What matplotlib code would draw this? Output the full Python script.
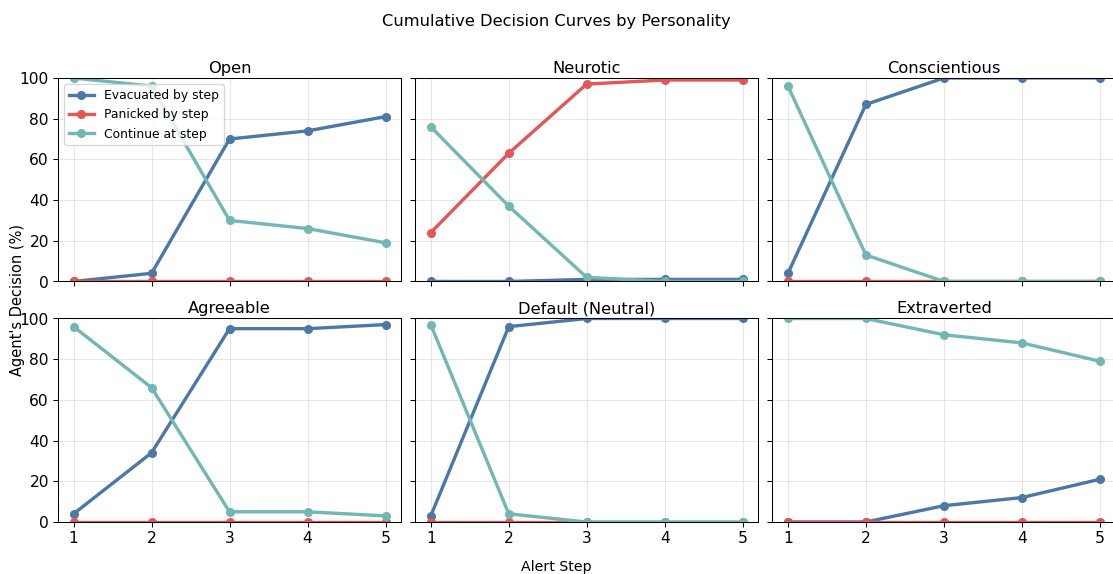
import numpy as np
import matplotlib.pyplot as plt

# Data
steps = [1, 2, 3, 4, 5]
personalities = ['Open', 'Neurotic', 'Conscientious', 'Agreeable', 'Default (Neutral)', 'Extraverted']

evacuated = {
    'Open': [0, 4, 70, 74, 81],
    'Neurotic': [0, 0, 1, 1, 1],
    'Conscientious': [4, 87, 100, 100, 100],
    'Agreeable': [4, 34, 95, 95, 97],
    'Default (Neutral)': [3, 96, 100, 100, 100],
    'Extraverted': [0, 0, 8, 12, 21],
}
panicked = {
    'Open': [0, 0, 0, 0, 0],
    'Neurotic': [24, 63, 97, 99, 99],
    'Conscientious': [0, 0, 0, 0, 0],
    'Agreeable': [0, 0, 0, 0, 0],
    'Default (Neutral)': [0, 0, 0, 0, 0],
    'Extraverted': [0, 0, 0, 0, 0],
}
continuing = {
    'Open': [100, 96, 30, 26, 19],
    'Neurotic': [76, 37, 2, 0, 0],
    'Conscientious': [96, 13, 0, 0, 0],
    'Agreeable': [96, 66, 5, 5, 3],
    'Default (Neutral)': [97, 4, 0, 0, 0],
    'Extraverted': [100, 100, 92, 88, 79],
}

c_evac = '#4c78a8'
c_panic = '#e45756'
c_cont = '#72b7b2'

fig, axes = plt.subplots(2, 3, figsize=(12, 6.19), dpi=92.75, sharex=True, sharey=True)
fig.subplots_adjust(left=0.0521, right=1.0022, top=0.864, bottom=0.0906, wspace=0.041, hspace=0.182)

for ax, name in zip(axes.flat, personalities):
    ax.plot(steps, evacuated[name], color=c_evac, lw=2.6, marker='o', ms=6, label='Evacuated by step')
    ax.plot(steps, panicked[name], color=c_panic, lw=2.6, marker='o', ms=6, label='Panicked by step')
    ax.plot(steps, continuing[name], color=c_cont, lw=2.6, marker='o', ms=6, label='Continue at step')
    ax.set_title(name, fontsize=12.6, pad=4)
    ax.set_ylim(0, 100)
    ax.set_xticks(steps)
    ax.grid(True, alpha=0.3)
    ax.tick_params(labelsize=12)

axes[0, 0].legend(loc='upper left', fontsize=9.6)

fig.suptitle('Cumulative Decision Curves by Personality', fontsize=12.6, y=0.975)
fig.supxlabel('Alert Step', fontsize=11, y=0.0)
fig.text(0.016, 0.477, "Agent's Decision (%)", fontsize=11.4, rotation=90, ha='center', va='center')

plt.savefig('out.png', dpi=92.75)
